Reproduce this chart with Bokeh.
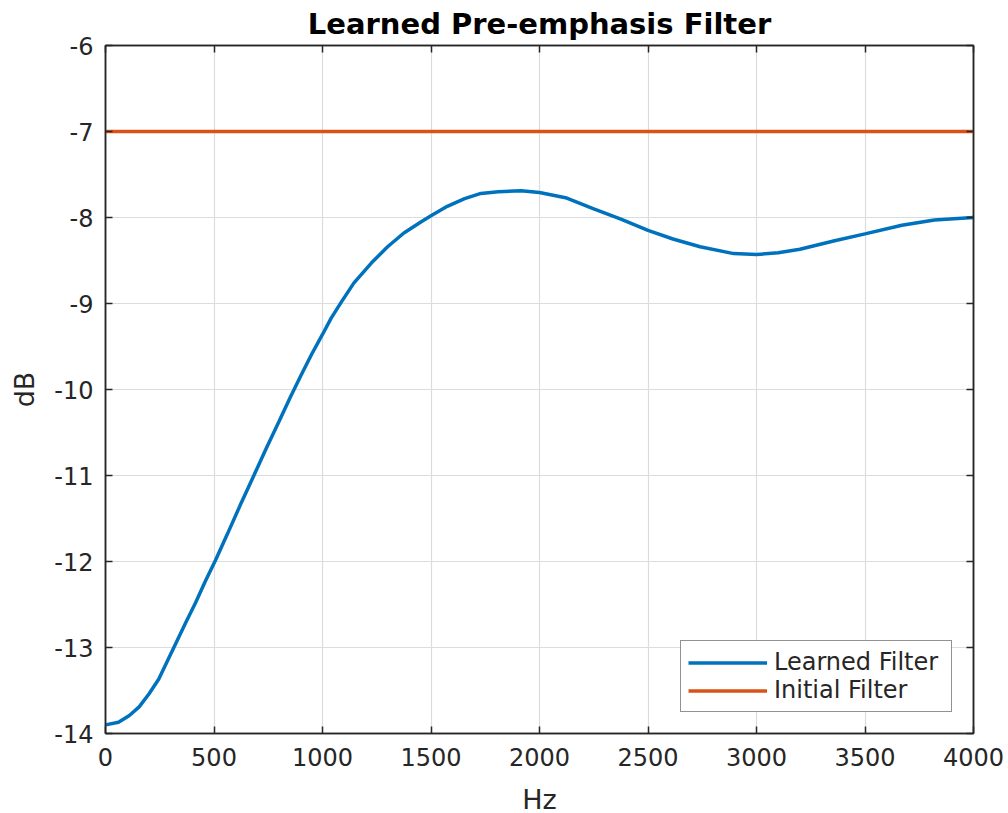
from bokeh.plotting import figure
from bokeh.models import LinearAxis, Legend, LegendItem, FixedTicker, Range1d, PrintfTickFormatter
from bokeh.embed import file_html
from bokeh.resources import INLINE

# ---- data ----
freq_hz = [0, 60, 110, 155, 200, 245, 315, 370, 415, 460, 508, 560, 620, 680, 740,
           800, 850, 900, 950, 1000, 1040, 1085, 1145, 1225, 1300, 1375, 1455, 1500,
           1575, 1655, 1730, 1810, 1915, 2000, 2120, 2250, 2375, 2500, 2615, 2740,
           2895, 3000, 3100, 3200, 3360, 3500, 3670, 3820, 4000]
learned_db = [-13.90, -13.87, -13.79, -13.69, -13.54, -13.37, -13.00, -12.71, -12.48,
              -12.23, -11.98, -11.69, -11.35, -11.02, -10.69, -10.37, -10.10, -9.84,
              -9.59, -9.36, -9.17, -8.99, -8.76, -8.53, -8.34, -8.18, -8.05, -7.98,
              -7.87, -7.78, -7.72, -7.70, -7.69, -7.71, -7.77, -7.90, -8.02, -8.15,
              -8.25, -8.34, -8.42, -8.43, -8.41, -8.37, -8.27, -8.19, -8.09, -8.03,
              -8.00]
initial_freq = [0, 4000]
initial_db = [-7.0, -7.0]
x_ticks = [0, 500, 1000, 1500, 2000, 2500, 3000, 3500, 4000]
y_ticks = [-14, -13, -12, -11, -10, -9, -8, -7, -6]

AX = "#262626"
FONT = "DejaVu Sans"

p = figure(frame_width=868, frame_height=688, output_backend="svg", toolbar_location=None,
           x_range=Range1d(0, 4000), y_range=Range1d(-14, -6),
           min_border_left=105, min_border_right=35, min_border_top=45,
           min_border_bottom=80, title="Learned Pre-emphasis Filter")
p.title.align = "center"
p.title.text_font = FONT
p.title.text_font_style = "bold"
p.title.text_font_size = "29px"
p.title.text_color = "#000000"
p.title.standoff = 9
p.outline_line_color = AX
p.outline_line_width = 1.5

def style_axis(ax, ticks, labels=True):
    ax.ticker = FixedTicker(ticks=ticks)
    ax.formatter = PrintfTickFormatter(format="%d")
    ax.axis_line_color = AX
    ax.axis_line_width = 1.5
    ax.major_tick_in = 7
    ax.major_tick_out = 0
    ax.major_tick_line_color = AX
    ax.major_tick_line_width = 1.5
    ax.minor_tick_line_color = None
    ax.major_label_text_font = FONT
    ax.major_label_text_color = AX
    ax.major_label_text_font_size = "24px"
    if not labels:
        ax.major_label_text_alpha = 0
        ax.major_label_text_color = None
        ax.major_label_standoff = 0

style_axis(p.xaxis[0], x_ticks)
style_axis(p.yaxis[0], y_ticks)
p.xaxis[0].major_label_standoff = 14
p.yaxis[0].major_label_standoff = 12
p.xaxis[0].axis_label = "Hz"
p.yaxis[0].axis_label = "dB"
for ax in (p.xaxis[0], p.yaxis[0]):
    ax.axis_label_text_font = FONT
    ax.axis_label_text_font_size = "27px"
    ax.axis_label_text_font_style = "normal"
    ax.axis_label_text_color = AX
p.xaxis[0].axis_label_standoff = 15
p.yaxis[0].axis_label_standoff = 11

top = LinearAxis()
style_axis(top, x_ticks, labels=False)
p.add_layout(top, "above")
right = LinearAxis()
style_axis(right, y_ticks, labels=False)
p.add_layout(right, "right")

p.xgrid.ticker = FixedTicker(ticks=x_ticks)
p.ygrid.ticker = FixedTicker(ticks=y_ticks)
for g in (p.xgrid, p.ygrid):
    g.grid_line_color = "#dcdcdc"
    g.grid_line_width = 1.2

r1 = p.line(freq_hz, learned_db, line_color="#0072BD", line_width=3.5)
r2 = p.line(initial_freq, initial_db, line_color="#D95319", line_width=3.5)

legend = Legend(items=[LegendItem(label="Learned Filter", renderers=[r1]),
                       LegendItem(label="Initial Filter", renderers=[r2])],
                location="bottom_right")
legend.margin = 21
legend.padding = 7
legend.spacing = -2
legend.glyph_width = 79
legend.glyph_height = 27
legend.label_height = 27
legend.label_width = 170
legend.label_standoff = 7
legend.label_text_font = FONT
legend.label_text_font_size = "24px"
legend.label_text_color = AX
legend.border_line_color = AX
legend.border_line_width = 1.2
legend.background_fill_color = "white"
legend.background_fill_alpha = 1
p.add_layout(legend, "center")

open("out.html", "w").write(file_html(p, INLINE))
